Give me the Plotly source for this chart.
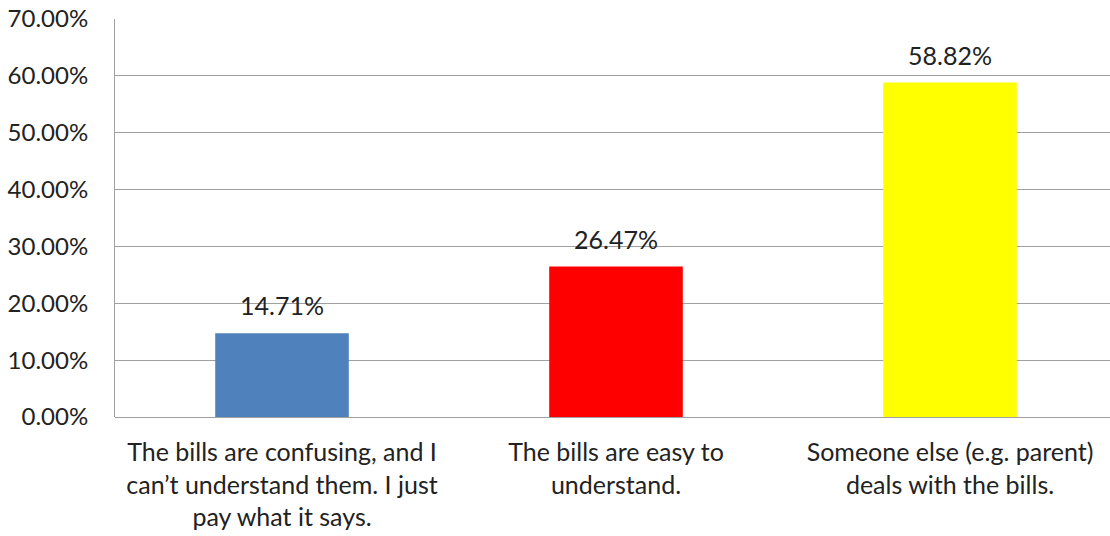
import plotly.graph_objects as go

categories = [
    "The bills are confusing, and I<br>can’t understand them. I just<br>pay what it says.",
    "The bills are easy to<br>understand.",
    "Someone else (e.g. parent)<br>deals with the bills.",
]
values = [14.71, 26.47, 58.82]
colors = ["#4F81BD", "#FF0000", "#FFFF00"]
y_ticks = [0, 10, 20, 30, 40, 50, 60, 70]

FONT = "Lato"
SIZE = 25
INK = "#222222"

x_pos = list(range(len(categories)))

fig = go.Figure(
    go.Bar(
        x=x_pos,
        y=values,
        marker=dict(color=colors, line=dict(width=0)),
        width=0.40,
    )
)

# value labels above each bar
for xi, v in zip(x_pos, values):
    fig.add_annotation(
        x=xi,
        y=v,
        text=f"{v:.2f}%",
        showarrow=False,
        yanchor="bottom",
        yshift=11,
        font=dict(family=FONT, size=SIZE, color=INK),
    )

fig.update_layout(
    width=1110,
    height=536,
    margin=dict(l=115, r=0, t=19, b=119),
    paper_bgcolor="white",
    plot_bgcolor="white",
    showlegend=False,
    font=dict(family=FONT, size=SIZE, color=INK),
)

fig.update_xaxes(
    tickmode="array",
    tickvals=x_pos,
    ticktext=categories,
    range=[-0.5, 2.479],
    showgrid=False,
    showline=False,
    ticks="",
    tickfont=dict(family=FONT, size=SIZE, color=INK),
    ticklabelstandoff=18,
)

fig.update_yaxes(
    range=[0, 70],
    tickmode="array",
    tickvals=y_ticks,
    ticktext=[f"{t:.2f}%" for t in y_ticks],
    showgrid=True,
    gridcolor="#A0A0A0",
    gridwidth=1,
    showline=True,
    linecolor="#A0A0A0",
    linewidth=1,
    zeroline=True,
    zerolinecolor="#A0A0A0",
    zerolinewidth=1,
    ticks="",
    tickfont=dict(family=FONT, size=24, color=INK),
    ticklabelstandoff=21,
)

fig.write_html("out.html")
